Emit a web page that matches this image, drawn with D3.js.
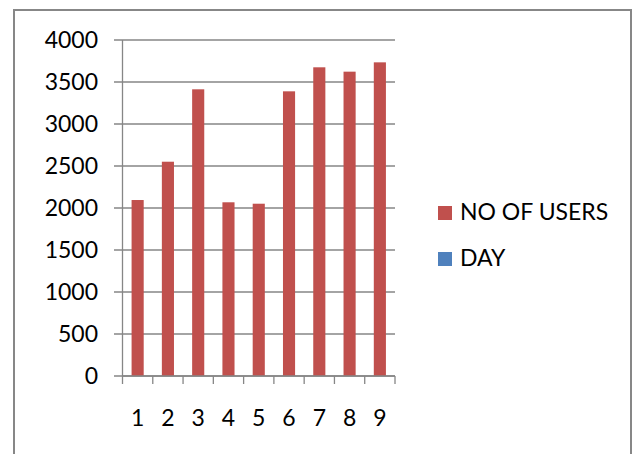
<!DOCTYPE html>
<html>
<head>
<meta charset="utf-8">
<style>
  body { margin: 0; background: #fff; }
  svg { display: block; font-family: Lato, "Open Sans", sans-serif; }
</style>
</head>
<body>
<svg width="636" height="454"></svg>
<script src="https://cdn.jsdelivr.net/npm/d3@7"></script>
<script>
// data
var days = ["1", "2", "3", "4", "5", "6", "7", "8", "9"];
var users = [2095, 2551, 3413, 2068, 2051, 3389, 3675, 3623, 3734];
var yTicks = [0, 500, 1000, 1500, 2000, 2500, 3000, 3500, 4000];
var legendNames = ["NO OF USERS", "DAY"];
var legendColors = ["#c0504d", "#4f81bd"];

var svg = d3.select("svg");

// outer chart frame (bottom edge falls below the picture)
svg.append("rect")
    .attr("x", 14).attr("y", 10)
    .attr("width", 617).attr("height", 460)
    .attr("fill", "#fff")
    .attr("stroke", "#878787")
    .attr("stroke-width", 2);

var y = d3.scaleLinear().domain([0, 4000]).range([376, 40]);
var xCat = d3.scaleBand().domain(days).range([122.5, 395]).padding(0);
var x = d3.scaleBand().domain(days).range([122.5, 395])
    .paddingInner(0.6).paddingOuter(0.3);

// gridlines + y labels
var grid = svg.append("g");
grid.selectAll("line")
  .data(yTicks)
  .enter().append("line")
    .attr("x1", 114).attr("x2", 395)
    .attr("y1", function(d) { return y(d); })
    .attr("y2", function(d) { return y(d); })
    .attr("stroke", "#868686")
    .attr("stroke-width", 1.3);

grid.selectAll("text")
  .data(yTicks)
  .enter().append("text")
    .attr("x", 98)
    .attr("y", function(d) { return y(d); })
    .attr("dy", "0.36em")
    .attr("text-anchor", "end")
    .attr("font-size", 23)
    .attr("fill", "#000")
    .text(function(d) { return d; });

// bars
svg.append("g").selectAll("rect")
  .data(users)
  .enter().append("rect")
    .attr("x", function(d, i) { return x(days[i]); })
    .attr("width", x.bandwidth())
    .attr("y", function(d) { return y(d); })
    .attr("height", function(d) { return y(0) - y(d); })
    .attr("fill", "#c0504d");

// y axis line
svg.append("line")
    .attr("x1", 122.5).attr("x2", 122.5)
    .attr("y1", y(4000)).attr("y2", y(0))
    .attr("stroke", "#868686").attr("stroke-width", 1.3);

// x axis with ticks on category boundaries
var bounds = days.map(function(d) { return xCat(d); }).concat([395]);
svg.append("line")
    .attr("x1", 122.5).attr("x2", 395)
    .attr("y1", y(0)).attr("y2", y(0))
    .attr("stroke", "#868686").attr("stroke-width", 1.3);
svg.append("g").selectAll("line")
  .data(bounds)
  .enter().append("line")
    .attr("x1", function(d) { return d; })
    .attr("x2", function(d) { return d; })
    .attr("y1", y(0)).attr("y2", y(0) + 8)
    .attr("stroke", "#868686").attr("stroke-width", 1.3);

svg.append("g").selectAll("text")
  .data(days)
  .enter().append("text")
    .attr("x", function(d) { return xCat(d) + xCat.bandwidth() / 2; })
    .attr("y", 426)
    .attr("text-anchor", "middle")
    .attr("font-size", 23)
    .attr("fill", "#000")
    .text(function(d) { return d; });

// legend
var legend = svg.append("g");
legendNames.forEach(function(name, i) {
  var ly = 206 + i * 46;
  legend.append("rect")
      .attr("x", 438).attr("y", ly)
      .attr("width", 14).attr("height", 14)
      .attr("fill", legendColors[i]);
  legend.append("text")
      .attr("x", 460).attr("y", ly + 14)
      .attr("font-size", 23)
      .attr("fill", "#000")
      .text(name);
});
</script>
</body>
</html>
